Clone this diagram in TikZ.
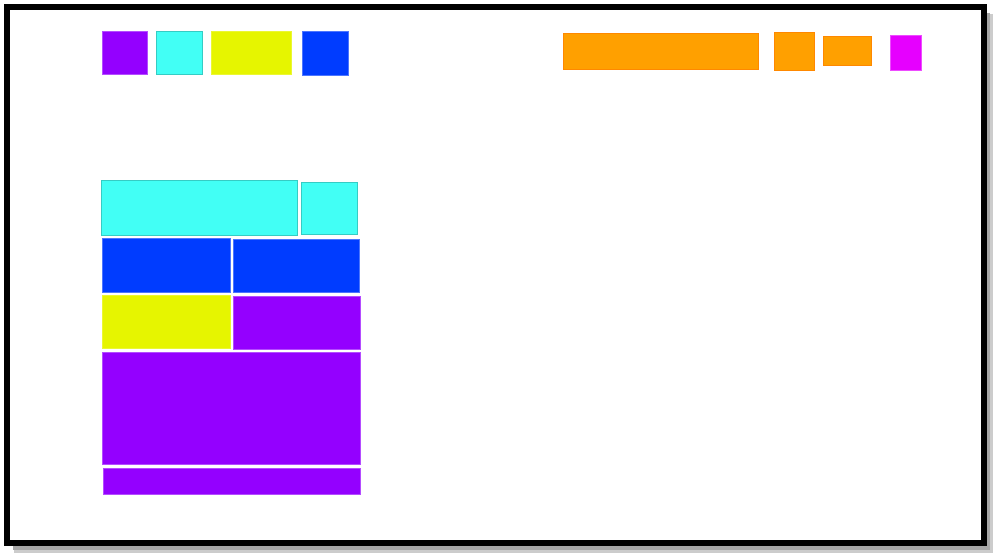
\documentclass[tikz,border=0pt]{standalone}
\definecolor{tilepurple}{RGB}{148,0,255}
\definecolor{tilecyan}{RGB}{66,255,245}
\definecolor{tileyellow}{RGB}{230,245,0}
\definecolor{tileblue}{RGB}{0,60,255}
\definecolor{tileorange}{RGB}{255,160,0}
\definecolor{tilemagenta}{RGB}{230,0,255}
\begin{document}
\begin{tikzpicture}[x=1pt,y=-1pt,
  purpletile/.style={fill=tilepurple,draw=tilepurple!70!white,line width=0.6pt},
  cyantile/.style={fill=tilecyan,draw=tilecyan!80!black,line width=0.6pt},
  yellowtile/.style={fill=tileyellow,draw=tileyellow!80!white,line width=0.6pt},
  bluetile/.style={fill=tileblue,draw=tileblue!70!white,line width=0.6pt},
  orangetile/.style={fill=tileorange,draw=tileorange!85!red,line width=0.6pt},
  magentatile/.style={fill=tilemagenta,draw=tilemagenta!70!white,line width=0.6pt}]
\useasboundingbox (0,0) rectangle (1000,559);
\fill[white] (0,0) rectangle (1000,559);

% frame with shadow
\draw[line width=7pt,black!20] (989,14) -- (989,549) -- (14,549);
\draw[line width=4pt,black!35] (988,13) -- (988,548) -- (13,548);
\draw[line width=6pt,black] (7,7) rectangle (984,543);

% top left tiles
\draw[purpletile] (102,31) rectangle (147,74);
\draw[cyantile] (156,31) rectangle (202,74);
\draw[yellowtile] (211,31) rectangle (291,74);
\draw[bluetile] (302,31) rectangle (348,75);

% top right tiles
\draw[orangetile] (563,33) rectangle (758,69);
\draw[orangetile] (774,32) rectangle (814,70);
\draw[orangetile] (823,36) rectangle (871,65);
\draw[magentatile] (890,35) rectangle (921,70);

% stacked block
\draw[cyantile] (101,180) rectangle (297,235);
\draw[cyantile] (301,182) rectangle (357,234);
\draw[bluetile] (102,238) rectangle (230,292);
\draw[bluetile] (233,239) rectangle (359,292);
\draw[yellowtile] (102,295) rectangle (230,348);
\draw[purpletile] (233,296) rectangle (360,349);
\draw[purpletile] (102,352) rectangle (360,464);
\draw[purpletile] (103,468) rectangle (360,494);
\end{tikzpicture}
\end{document}
